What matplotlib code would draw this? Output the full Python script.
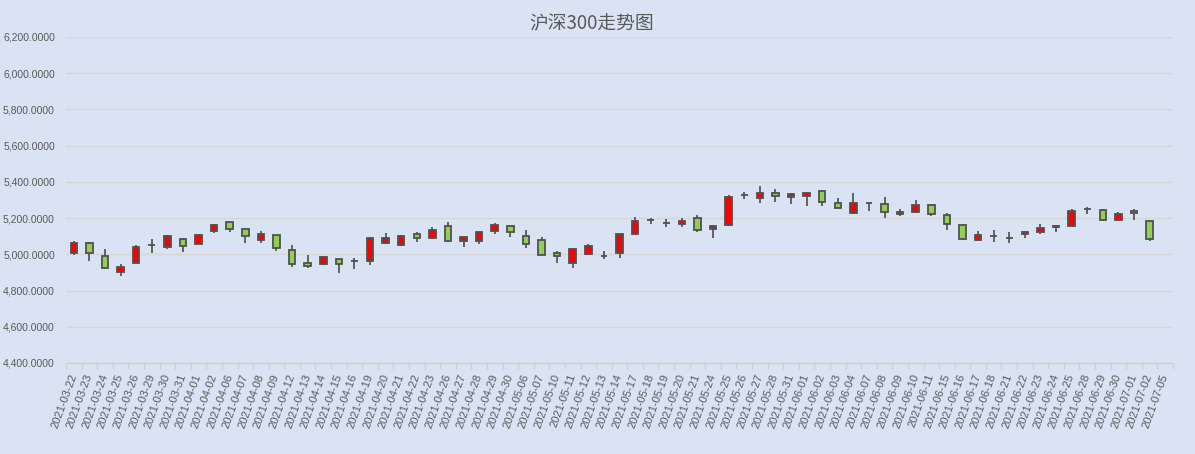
import numpy as np
import matplotlib
matplotlib.use("Agg")
import matplotlib.pyplot as plt
from matplotlib.patches import Rectangle
from matplotlib import font_manager as fm
from matplotlib.ticker import FuncFormatter, FixedLocator

dates = ["2021-03-22","2021-03-23","2021-03-24","2021-03-25","2021-03-26","2021-03-29","2021-03-30",
         "2021-03-31","2021-04-01","2021-04-02","2021-04-06","2021-04-07","2021-04-08","2021-04-09",
         "2021-04-12","2021-04-13","2021-04-14","2021-04-15","2021-04-16","2021-04-19","2021-04-20",
         "2021-04-21","2021-04-22","2021-04-23","2021-04-26","2021-04-27","2021-04-28","2021-04-29",
         "2021-04-30","2021-05-06","2021-05-07","2021-05-10","2021-05-11","2021-05-12","2021-05-13",
         "2021-05-14","2021-05-17","2021-05-18","2021-05-19","2021-05-20","2021-05-21","2021-05-24",
         "2021-05-25","2021-05-26","2021-05-27","2021-05-28","2021-05-31","2021-06-01","2021-06-02",
         "2021-06-03","2021-06-04","2021-06-07","2021-06-08","2021-06-09","2021-06-10","2021-06-11",
         "2021-06-15","2021-06-16","2021-06-17","2021-06-18","2021-06-21","2021-06-22","2021-06-23",
         "2021-06-24","2021-06-25","2021-06-28","2021-06-29","2021-06-30","2021-07-01","2021-07-02",
         "2021-07-05"]

open_ = [5007,5060,4989,4903,4953,5049,5040,5086,5057,5128,5179,5141,5079,5104,5026,4951,4947,4973,4963,4964,
         5062,5051,5115,5090,5159,5073,5073,5128,5159,5099,5077,5006,4953,5000,4990,5007,5112,5187,5171,5168,
         5201,5141,5161,5325,5312,5339,5317,5323,5350,5284,5228,5283,5279,5225,5236,5274,5219,5164,5077,5101,
         5092,5110,5126,5155,5159,5249,5247,5192,5241,5186,np.nan]
high = [5071,5066,5027,4949,5053,5086,5108,5088,5113,5170,5181,5142,5130,5106,5049,4995,4990,4975,4982,5090,
        5119,5108,5121,5153,5181,5097,5123,5172,5164,5137,5093,5020,5033,5055,5020,5112,5208,5201,5196,5201,
        5218,5159,5325,5345,5380,5361,5336,5345,5352,5312,5336,5286,5318,5252,5301,5276,5227,5166,5128,5132,
        5126,5127,5170,5164,5252,5263,5249,5232,5252,5188,np.nan]
low = [4996,4964,4920,4883,4950,5009,5029,5015,5055,5117,5122,5062,5062,5020,4931,4925,4942,4898,4920,4942,
       5057,5046,5068,5084,5070,5040,5059,5112,5095,5037,4996,4953,4925,4995,4975,4980,5110,5170,5152,5150,
       5124,5089,5159,5306,5282,5290,5277,5268,5268,5254,5222,5239,5201,5214,5230,5212,5137,5077,5075,5066,
       5060,5088,5110,5121,5157,5225,5185,5185,5192,5075,np.nan]
close = [5060,5007,4925,4929,5038,5052,5099,5046,5108,5163,5139,5101,5115,5035,4947,4936,4984,4947,4965,5088,
         5088,5099,5090,5137,5073,5093,5121,5164,5122,5057,4998,4993,5027,5044,4992,5110,5186,5189,5173,5185,
         5133,5157,5317,5327,5339,5323,5334,5341,5290,5256,5285,5281,5236,5236,5274,5225,5170,5082,5104,5103,
         5090,5126,5148,5153,5241,5251,5192,5225,5230,5082,np.nan]

title = "沪深300走势图"
y_ticks = [4400, 4600, 4800, 5000, 5200, 5400, 5600, 5800, 6000, 6200]

names = {f.name for f in fm.fontManager.ttflist}
tick_font = "Liberation Sans Narrow" if "Liberation Sans Narrow" in names else "Liberation Sans"

BG = "#dae3f3"
TXT = "#595959"
EDGE = "#505050"
UP = "#ff0000"
DOWN = "#92d050"

fig = plt.figure(figsize=(11.95, 4.54), dpi=100, facecolor=BG)
ax = fig.add_axes([66/1195, 1-363/454, (1173-66)/1195, (363-37)/454])
ax.set_facecolor(BG)

n = len(dates)
x = np.arange(n)
w = 0.42
for i in range(n):
    o, h, l, c = open_[i], high[i], low[i], close[i]
    if np.isnan(o):
        continue
    ax.vlines(x[i], l, h, color="#404040", lw=1.1, zorder=2)
    color = UP if c > o else DOWN
    bottom = min(o, c)
    height = abs(c - o)
    ax.add_patch(Rectangle((x[i]-w/2, bottom), w, height, facecolor=color,
                           edgecolor=EDGE, lw=1.3, zorder=3))

ax.set_xlim(-0.5, n-0.5)
ax.set_ylim(4400, 6200)
ax.set_yticks(y_ticks)
ax.yaxis.set_major_formatter(FuncFormatter(lambda v, p: f"{v:,.4f}"))
ax.grid(axis="y", color="#d6d6d6", lw=1, zorder=0)
ax.set_axisbelow(True)

ysize = 9 if tick_font == "Liberation Sans Narrow" else 7.5
xsize = 9 if tick_font == "Liberation Sans Narrow" else 8

ax.set_xticks(x)
ax.set_xticklabels(dates, rotation=70, ha="right", va="center", rotation_mode="anchor")
ax.xaxis.set_minor_locator(FixedLocator(np.arange(-0.5, n, 1.0)))
ax.tick_params(axis="x", which="major", length=0, pad=8, labelsize=xsize, labelcolor=TXT)
ax.tick_params(axis="x", which="minor", length=4, color="#d0d0d0", width=1)
ax.tick_params(axis="y", length=0, pad=8, labelsize=ysize, labelcolor=TXT)
for lab in ax.get_xticklabels() + ax.get_yticklabels():
    lab.set_fontfamily(tick_font)

for s in ["top", "right", "left"]:
    ax.spines[s].set_visible(False)
ax.spines["bottom"].set_color("#d0d0d0")
ax.spines["bottom"].set_linewidth(1)

fig.text(592/1195, 1-24/454, title, ha="center", va="center", fontsize=13.5, color=TXT,
         family=["Noto Sans CJK SC", "DejaVu Sans"])

fig.savefig("out.png", dpi=100, facecolor=BG)
